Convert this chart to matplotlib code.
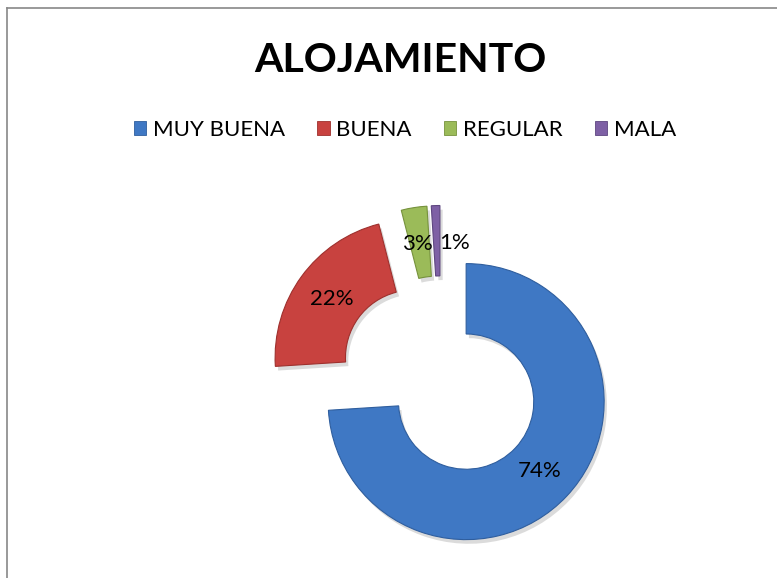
import numpy as np
import matplotlib.pyplot as plt
from matplotlib.lines import Line2D
import matplotlib.patheffects as pe

categorias = ["MUY BUENA", "BUENA", "REGULAR", "MALA"]
valores = [74, 22, 3, 1]
colores = ["#3F78C4", "#C8423F", "#9BBB59", "#7E60A5"]
bordes = ["#2F5E9E", "#9E302D", "#76923C", "#5E4680"]
separar = [0.25, 0.25, 0.25, 0.25]

plt.rcParams['font.family'] = ['Lato', 'DejaVu Sans']

fig = plt.figure(figsize=(7.77, 5.78), dpi=100)
ax = fig.add_axes([0, 0, 1, 1])

wedges, textos, pct = ax.pie(valores, colors=colores, startangle=90, counterclock=False,
                             explode=separar, radius=1.0, autopct='%1.0f%%',
                             pctdistance=0.73,
                             wedgeprops=dict(width=0.51, linewidth=0.8),
                             textprops=dict(fontsize=16, color='black'))
for w, b in zip(wedges, bordes):
    w.set_edgecolor(b)
    w.set_path_effects([pe.SimplePatchShadow(offset=(2, -3), shadow_rgbFace='#999999', alpha=0.35),
                        pe.Normal()])

# las etiquetas pequeñas quedan juntas como en Excel: "3%1%"
x3, y3 = pct[2].get_position()
pct[2].set_position((x3 - 0.02, y3))
x1, y1 = pct[3].get_position()
pct[3].set_position((x1 + 0.13, y1))

# centro del anillo en pixeles (441, 378), radio 138 px
r_px = 138.0
cx, cy = 441.0, 378.0
ax.set_xlim(-cx / r_px, (777 - cx) / r_px)
ax.set_ylim(-(578 - cy) / r_px, cy / r_px)
ax.axis('off')

fig.text(0.515, 1 - 60 / 578, "ALOJAMIENTO", ha='center', va='center',
         fontsize=29.5, fontweight='bold')

handles = [plt.Rectangle((0, 0), 1, 1, facecolor=c, edgecolor=b, linewidth=0.6)
           for c, b in zip(colores, bordes)]
fig.legend(handles, categorias, loc='center', bbox_to_anchor=(405 / 777, 1 - 130 / 578),
           ncol=4, frameon=False, fontsize=16, handlelength=0.55, handleheight=0.55,
           handletextpad=0.3, columnspacing=1.45)

fig.add_artist(Line2D([7 / 777, 1], [1 - 8 / 578, 1 - 8 / 578], color='#888888', linewidth=1.2))
fig.add_artist(Line2D([7 / 777, 7 / 777], [0, 1 - 8 / 578], color='#888888', linewidth=1.2))

fig.savefig("out.png", dpi=100)
